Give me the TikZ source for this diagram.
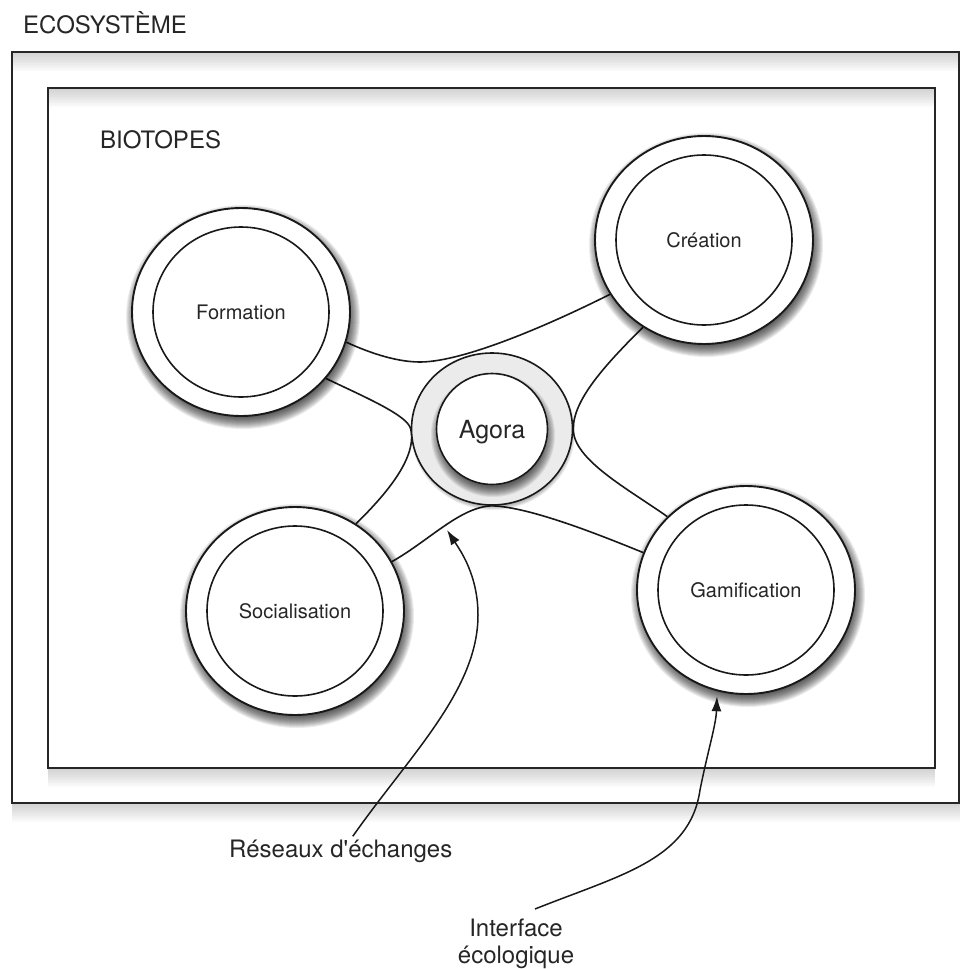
\documentclass[tikz,border=0pt]{standalone}
\usepackage{fontspec}
\setmainfont{TeX Gyre Heros}[Ligatures=TeXOff]
\usetikzlibrary{shapes.geometric,arrows.meta}
\pgfdeclarelayer{bg}
\pgfsetlayers{bg,main}

% soft drop shadow built from stacked translucent ellipses
\newcommand{\softshadow}[5]{% centre x, centre y, x radius, y radius, spread
  \foreach \k in {0,...,#5}{
    \fill[black, opacity=0.075]
      (#1,#2) ellipse [x radius={#3+#5-\k-4}, y radius={#4+#5-\k-4}];
  }
}

\begin{document}
\begin{tikzpicture}[x=1pt,y=-1pt,
  frame/.style={draw=black!85, line width=1.6pt},
  pipe/.style={draw=black!90, line width=1.6pt},
  biotope/.style={ellipse, draw=black!90, line width=1.9pt, fill=white,
    minimum width=218pt, minimum height=208pt, inner sep=0pt},
  core/.style={ellipse, draw=black!90, line width=1.6pt, fill=white,
    minimum width=176pt, minimum height=170pt, inner sep=0pt,
    font=\fontsize{20}{24}\selectfont, text=black!85,
    text height=14.4pt, text depth=0pt},
  title/.style={anchor=base west, inner sep=0pt,
    font=\fontsize{24}{28}\selectfont, text=black!85},
  callout/.style={inner sep=0pt, font=\fontsize{24}{27}\selectfont,
    text=black!85, align=center},
  pointer/.style={draw=black!90, line width=1.5pt,
    -{Latex[length=15pt,width=10pt]}}
]
\useasboundingbox (0,0) rectangle (960,969);

% ---- frames: ecosystem and biotopes ----
\begin{pgfonlayer}{bg}
  \foreach \h in {2,4,...,18}{
    \fill[black, opacity=0.02] (12,53) rectangle (962,53+\h);
    \fill[black, opacity=0.02] (48,89) rectangle (935,89+\h);
    \fill[black, opacity=0.02] (48,769) rectangle (935,769+\h);
    \fill[black, opacity=0.02] (12,804) rectangle (962,804+\h);
  }
  \draw[frame] (12,52) rectangle (959,803);
  \draw[frame] (48,88) rectangle (935,768);
\end{pgfonlayer}

\node[title] (eco) at (23,33) {ECOSYSTÈME};
\node[title] (bio) at (100,148) {BIOTOPES};

% ---- shadows under the biotopes ----
\softshadow{243}{317}{109}{104}{12}
\softshadow{706}{245}{109}{104}{12}
\softshadow{297}{616}{109}{104}{12}
\softshadow{748}{595}{109}{104}{12}

% ---- biotopes ----
\node[biotope] (formation) at (241,312) {};
\node[core] (formation-in) at (241,312) {Formation};

\node[biotope] (creation) at (704,240) {};
\node[core] (creation-in) at (704,240) {Création};

\node[biotope] (socialisation) at (295,611) {};
\node[core] (socialisation-in) at (295,611) {Socialisation};

\node[biotope] (gamification) at (746,590) {};
\node[core] (gamification-in) at (746,590) {Gamification};

% ---- agora ----
\softshadow{493}{432}{80}{76}{6}
\node[ellipse, draw=black!90, line width=1.6pt, fill=black!8,
  minimum width=161pt, minimum height=152pt, inner sep=0pt]
  (agora) at (492,429) {};
\begin{scope}
  \clip (492,429) ellipse [x radius=79.5, y radius=75];
  \softshadow{493}{435}{56}{56}{10}
\end{scope}
\node[circle, draw=black!90, line width=1.6pt, fill=white,
  minimum size=111pt, inner sep=0pt,
  font=\fontsize{25}{30}\selectfont, text=black!85,
  text height=18pt, text depth=0pt]
  (agora-in) at (492,429) {Agora};

% ---- exchange networks between neighbouring biotopes ----
\begin{pgfonlayer}{bg}
  \draw[pipe] (formation.-16) .. controls (372,354) and (398,362) .. (420,362)
    .. controls (465,362) and (555,322) .. (creation.210.7);
  \draw[pipe] (formation.-38) .. controls (360,395) and (408,415) .. (agora.180)
    .. controls (418,460) and (380,500) .. (socialisation.55.4);
  \draw[pipe] (creation.235.4) .. controls (605,365) and (573,400) .. (agora.0)
    .. controls (573,460) and (630,490) .. (gamification.137.6);
  \draw[pipe] (socialisation.27.3) .. controls (430,540) and (460,507) .. (agora.270)
    .. controls (530,507) and (600,535) .. (gamification.160.6);
\end{pgfonlayer}

% ---- callouts ----
\node[anchor=base west, callout] (reseaux) at (229,857) {Réseaux d'échanges};
\node[anchor=north, callout] (interface) at (516,919) {Interface\\écologique};

\coordinate (tipA) at (447,530);
\draw[pointer] ([xshift=12pt,yshift=3pt]reseaux.north)
  .. controls (410,755) and (478,690) .. (478,615)
  .. controls (478,575) and (460,550) .. (tipA);
\draw[pointer] ([xshift=19pt,yshift=10pt]interface.north)
  .. controls (620,875) and (690,860) .. (700,790)
  .. controls (708,750) and (716,725) .. ([yshift=-5pt]gamification.254);
\end{tikzpicture}
\end{document}
